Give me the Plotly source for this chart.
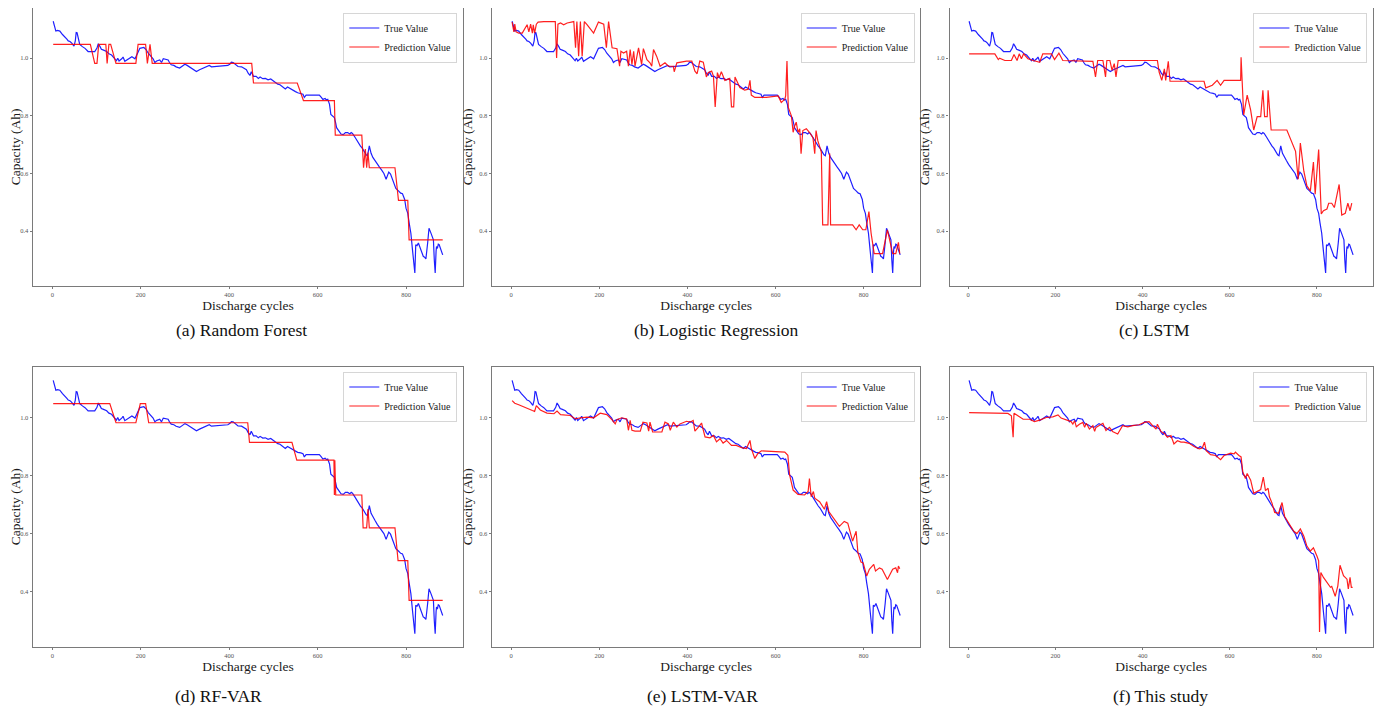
import plotly.graph_objects as go
from plotly.subplots import make_subplots

# ---------------- data ----------------
true_cycles = [2, 5, 8, 12, 17, 23, 29, 33, 36, 40, 44, 47, 49, 52, 54, 56, 58, 62, 68, 74, 81, 88, 96, 101, 104, 108, 111, 116, 123, 128, 134, 140, 145, 148, 151, 157, 160, 164, 170, 175, 180, 187, 192, 198, 207, 212, 217, 222, 228, 232, 236, 243, 247, 251, 262, 265, 269, 275, 280, 288, 294, 300, 305, 310, 315, 320, 326, 333, 340, 348, 355, 360, 371, 380, 390, 397, 402, 405, 409, 414, 420, 428, 435, 439, 443, 447, 450, 455, 461, 466, 470, 476, 482, 488, 494, 499, 505, 510, 515, 521, 527, 532, 537, 545, 550, 555, 562, 567, 570, 574, 585, 595, 604, 608, 612, 617, 620, 623, 627, 630, 634, 638, 641, 643, 648, 653, 658, 663, 668, 673, 676, 679, 685, 691, 697, 701, 706, 710, 713, 717, 721, 725, 730, 735, 740, 745, 750, 755, 758, 761, 765, 770, 774, 777, 783, 788, 792, 797, 800, 804, 807, 811, 815, 818, 820, 822, 825, 828, 831, 834, 837, 839, 842, 845, 849, 852, 856, 860, 862, 864, 866, 868, 869, 871, 873, 875, 878, 880, 883]
true_capacity = [1.128, 1.11, 1.094, 1.096, 1.094, 1.082, 1.074, 1.066, 1.06, 1.058, 1.052, 1.048, 1.042, 1.06, 1.089, 1.088, 1.075, 1.048, 1.04, 1.034, 1.023, 1.022, 1.023, 1.035, 1.05, 1.04, 1.031, 1.028, 1.023, 1.015, 1.011, 1.0, 0.991, 1.0, 0.99, 0.998, 1.004, 0.989, 0.995, 1.0, 1.005, 0.998, 1.012, 1.034, 1.037, 1.03, 1.017, 1.008, 0.998, 0.985, 0.99, 0.994, 0.985, 0.998, 0.994, 0.985, 0.977, 0.975, 0.97, 0.966, 0.972, 0.979, 0.975, 0.97, 0.966, 0.96, 0.954, 0.96, 0.965, 0.971, 0.975, 0.97, 0.971, 0.972, 0.973, 0.975, 0.98, 0.986, 0.985, 0.98, 0.971, 0.97, 0.965, 0.96, 0.948, 0.94, 0.953, 0.937, 0.937, 0.93, 0.935, 0.929, 0.93, 0.925, 0.928, 0.922, 0.918, 0.91, 0.908, 0.899, 0.893, 0.9, 0.895, 0.89, 0.884, 0.88, 0.878, 0.875, 0.864, 0.872, 0.872, 0.872, 0.872, 0.865, 0.857, 0.86, 0.855, 0.857, 0.84, 0.805, 0.8, 0.794, 0.775, 0.759, 0.748, 0.737, 0.735, 0.742, 0.742, 0.737, 0.742, 0.739, 0.725, 0.708, 0.695, 0.688, 0.674, 0.665, 0.662, 0.696, 0.67, 0.656, 0.645, 0.632, 0.622, 0.612, 0.6, 0.58, 0.59, 0.605, 0.598, 0.576, 0.56, 0.548, 0.54, 0.532, 0.53, 0.51, 0.48, 0.462, 0.43, 0.393, 0.33, 0.28, 0.255, 0.353, 0.35, 0.359, 0.345, 0.33, 0.318, 0.313, 0.31, 0.304, 0.36, 0.41, 0.395, 0.38, 0.37, 0.3, 0.255, 0.33, 0.347, 0.34, 0.355, 0.353, 0.34, 0.33, 0.318]

rf_cycles = [2, 86, 96, 101, 105, 121, 124, 128, 132, 144, 189, 194, 211, 215, 221, 226, 451, 455, 554, 568, 638, 640, 700, 704, 708, 711, 714, 717, 720, 775, 783, 804, 807, 883]
rf_capacity = [1.048, 1.048, 0.982, 0.982, 1.048, 1.048, 0.982, 1.048, 1.048, 0.982, 0.982, 1.048, 1.048, 0.982, 1.048, 0.982, 0.982, 0.914, 0.914, 0.853, 0.853, 0.733, 0.733, 0.62, 0.685, 0.62, 0.673, 0.62, 0.62, 0.62, 0.507, 0.507, 0.37, 0.37]

lr_cycles = [2, 6, 8, 11, 17, 25, 36, 40, 44, 48, 50, 53, 57, 61, 74, 100, 103, 106, 112, 119, 127, 142, 146, 149, 153, 157, 161, 166, 172, 187, 198, 210, 216, 221, 229, 240, 246, 249, 255, 262, 266, 270, 274, 278, 281, 289, 296, 300, 308, 315, 319, 323, 330, 338, 349, 357, 368, 370, 376, 387, 398, 410, 417, 422, 428, 436, 443, 447, 455, 459, 463, 468, 472, 477, 485, 496, 500, 505, 508, 519, 530, 538, 542, 545, 553, 579, 606, 613, 621, 623, 626, 629, 636, 640, 643, 647, 651, 655, 658, 662, 670, 677, 685, 689, 692, 696, 700, 704, 707, 719, 723, 725, 775, 783, 790, 798, 805, 812, 817, 824, 843, 854, 866, 873, 879, 882]
lr_capacity = [1.125, 1.091, 1.118, 1.091, 1.087, 1.087, 1.116, 1.091, 1.118, 1.087, 1.116, 1.087, 1.118, 1.125, 1.127, 1.127, 1.001, 1.118, 1.122, 1.116, 1.122, 1.127, 1.036, 1.127, 1.007, 1.127, 1.007, 1.127, 1.116, 1.087, 1.125, 1.118, 1.036, 1.127, 1.036, 1.033, 0.972, 1.024, 1.018, 1.024, 0.972, 1.03, 0.978, 1.024, 0.972, 1.036, 0.978, 1.033, 0.995, 0.984, 0.972, 1.03, 1.007, 0.972, 0.984, 0.972, 0.972, 0.953, 0.984, 0.987, 0.99, 0.99, 0.955, 0.946, 0.99, 0.986, 0.935, 0.95, 0.955, 0.938, 0.831, 0.95, 0.932, 0.953, 0.923, 0.93, 0.831, 0.831, 0.935, 0.898, 0.889, 0.892, 0.923, 0.872, 0.864, 0.864, 0.869, 0.846, 0.858, 0.869, 0.99, 0.829, 0.8, 0.743, 0.763, 0.778, 0.743, 0.755, 0.669, 0.749, 0.755, 0.743, 0.724, 0.669, 0.749, 0.714, 0.692, 0.674, 0.422, 0.422, 0.669, 0.422, 0.422, 0.405, 0.422, 0.405, 0.405, 0.468, 0.393, 0.322, 0.322, 0.405, 0.322, 0.322, 0.361, 0.322]

lstm_cycles = [2, 61, 69, 72, 84, 99, 105, 112, 117, 122, 127, 137, 149, 164, 171, 191, 198, 208, 217, 286, 292, 297, 309, 315, 318, 325, 330, 335, 339, 344, 434, 438, 444, 450, 453, 459, 463, 541, 545, 560, 571, 579, 587, 625, 626, 632, 640, 648, 655, 663, 671, 676, 680, 686, 688, 695, 731, 743, 751, 757, 762, 770, 777, 785, 792, 796, 804, 810, 815, 823, 827, 834, 840, 851, 857, 865, 871, 876, 880]
lstm_capacity = [1.015, 1.015, 0.995, 1.0, 0.992, 0.992, 1.013, 0.992, 1.015, 0.998, 1.015, 0.998, 0.992, 0.986, 1.015, 1.015, 0.995, 1.017, 0.992, 0.989, 0.935, 0.992, 0.992, 0.935, 0.992, 0.992, 0.958, 0.981, 0.935, 0.992, 0.992, 0.952, 0.923, 0.963, 0.923, 0.989, 0.92, 0.92, 0.897, 0.906, 0.923, 0.906, 0.923, 0.923, 1.003, 0.803, 0.872, 0.82, 0.751, 0.797, 0.797, 0.889, 0.797, 0.797, 0.889, 0.751, 0.751, 0.706, 0.677, 0.58, 0.706, 0.608, 0.557, 0.54, 0.64, 0.528, 0.683, 0.46, 0.471, 0.477, 0.497, 0.497, 0.482, 0.562, 0.456, 0.462, 0.497, 0.471, 0.497]

rfvar_cycles = [2, 130, 144, 189, 199, 211, 218, 442, 446, 542, 553, 637, 638, 639, 641, 700, 703, 711, 714, 717, 775, 782, 804, 807, 883]
rfvar_capacity = [1.048, 1.048, 0.982, 0.982, 1.048, 1.048, 0.982, 0.982, 0.914, 0.914, 0.853, 0.853, 0.733, 0.853, 0.733, 0.733, 0.62, 0.62, 0.685, 0.62, 0.62, 0.507, 0.507, 0.37, 0.37]

lstmvar_cycles = [2, 8, 17, 32, 48, 53, 57, 66, 81, 97, 104, 112, 134, 146, 157, 172, 187, 202, 217, 229, 236, 240, 251, 262, 266, 270, 274, 281, 293, 299, 308, 312, 315, 321, 342, 349, 357, 361, 368, 376, 383, 398, 406, 413, 417, 425, 432, 440, 451, 459, 466, 474, 481, 489, 500, 511, 523, 534, 542, 545, 553, 560, 568, 621, 628, 632, 640, 651, 666, 674, 677, 681, 686, 689, 700, 711, 716, 721, 734, 745, 756, 764, 775, 783, 787, 794, 799, 807, 813, 823, 827, 836, 842, 854, 866, 873, 877, 879, 882]
lstmvar_capacity = [1.058, 1.049, 1.044, 1.033, 1.024, 1.021, 1.041, 1.026, 1.015, 1.013, 1.022, 1.01, 1.007, 0.995, 0.999, 1.001, 0.999, 1.015, 1.01, 0.992, 0.978, 0.992, 0.999, 0.995, 0.956, 0.99, 0.956, 0.953, 0.953, 0.984, 0.981, 0.953, 0.984, 0.95, 0.95, 0.984, 0.978, 0.956, 0.984, 0.967, 0.978, 0.987, 0.984, 0.99, 0.953, 0.967, 0.981, 0.933, 0.93, 0.938, 0.916, 0.927, 0.912, 0.921, 0.904, 0.904, 0.896, 0.893, 0.921, 0.893, 0.859, 0.876, 0.885, 0.881, 0.87, 0.802, 0.75, 0.735, 0.733, 0.745, 0.79, 0.727, 0.745, 0.722, 0.71, 0.684, 0.71, 0.676, 0.648, 0.625, 0.642, 0.636, 0.574, 0.608, 0.534, 0.502, 0.499, 0.454, 0.477, 0.494, 0.471, 0.482, 0.477, 0.442, 0.477, 0.482, 0.465, 0.488, 0.479]

ours_cycles = [2, 42, 72, 91, 99, 103, 105, 111, 118, 126, 141, 152, 164, 179, 194, 206, 213, 225, 236, 240, 244, 248, 255, 263, 267, 271, 278, 286, 290, 293, 301, 309, 316, 324, 331, 343, 354, 366, 377, 392, 404, 415, 423, 431, 434, 442, 450, 457, 465, 472, 480, 488, 495, 507, 518, 530, 537, 542, 546, 556, 568, 579, 587, 602, 610, 613, 621, 626, 630, 636, 640, 648, 655, 667, 671, 677, 682, 688, 691, 697, 703, 712, 720, 726, 735, 747, 754, 762, 770, 777, 785, 792, 800, 804, 806, 809, 815, 823, 831, 834, 842, 848, 853, 861, 869, 872, 876, 879, 882]
ours_capacity = [1.017, 1.015, 1.014, 1.014, 1.006, 0.932, 1.015, 1.009, 1.002, 0.994, 0.994, 0.986, 0.991, 1.0, 1.002, 1.009, 0.998, 0.991, 0.986, 0.977, 0.989, 0.968, 0.977, 0.983, 0.966, 0.98, 0.96, 0.972, 0.952, 0.966, 0.972, 0.98, 0.955, 0.966, 0.952, 0.943, 0.972, 0.968, 0.972, 0.975, 0.983, 0.986, 0.972, 0.96, 0.977, 0.952, 0.945, 0.932, 0.938, 0.909, 0.92, 0.915, 0.915, 0.911, 0.9, 0.892, 0.895, 0.915, 0.886, 0.872, 0.869, 0.855, 0.869, 0.877, 0.875, 0.881, 0.869, 0.864, 0.812, 0.79, 0.807, 0.784, 0.739, 0.75, 0.752, 0.795, 0.748, 0.756, 0.727, 0.705, 0.673, 0.67, 0.707, 0.659, 0.636, 0.608, 0.6, 0.616, 0.591, 0.557, 0.54, 0.551, 0.523, 0.506, 0.261, 0.466, 0.449, 0.432, 0.415, 0.418, 0.384, 0.42, 0.491, 0.455, 0.443, 0.409, 0.449, 0.415, 0.415]

captions = ["(a) Random Forest", "(b) Logistic Regression", "(c) LSTM",
            "(d) RF-VAR", "(e) LSTM-VAR", "(f) This study"]
pred_cycles = [rf_cycles, lr_cycles, lstm_cycles, rfvar_cycles, lstmvar_cycles, ours_cycles]
pred_capacity = [rf_capacity, lr_capacity, lstm_capacity, rfvar_capacity, lstmvar_capacity, ours_capacity]
x_tick_values = [0, 200, 400, 600, 800]
x_tick_labels = ["0", "200", "400", "600", "800"]
y_tick_values = [0.4, 0.6, 0.8, 1.0]
y_tick_labels = ["0.4", "0.6", "0.8", "1.0"]
series_names = ["True Value", "Prediction Value"]

# ---------------- layout geometry (window pixels) ----------------
OFF = 8                      # default page margin around the plot div
W, H = 1391 - OFF, 708 - OFF
col_px = [(33.3, 462.6), (492.3, 920.0), (949.5, 1372.7)]
row_px = [(8.0, 285.7), (367.0, 646.5)]
caption_px = [(241.5, 330.5), (716.7, 330.5), (1154.0, 330.5),
              (218.0, 696.0), (702.0, 696.0), (1160.8, 696.0)]


def px_x(v):
    return min(1.0, max(0.0, (v - OFF) / W))


def px_y(v):
    return min(1.0, max(0.0, 1 - (v - OFF) / H))


FONT = "Liberation Serif, Times New Roman, serif"
BLUE = "rgba(0,0,255,0.88)"
RED = "rgba(255,0,0,0.88)"
AXC = "#7a7a7a"

fig = make_subplots(rows=2, cols=3)

for k in range(6):
    r, c = divmod(k, 3)
    leg = "legend" if k == 0 else f"legend{k + 1}"
    fig.add_trace(go.Scatter(x=true_cycles, y=true_capacity, mode="lines",
                             name=series_names[0], line=dict(color=BLUE, width=1.2),
                             legend=leg, hoverinfo="skip"), row=r + 1, col=c + 1)
    fig.add_trace(go.Scatter(x=pred_cycles[k], y=pred_capacity[k], mode="lines",
                             name=series_names[1], line=dict(color=RED, width=1.2),
                             legend=leg, hoverinfo="skip"), row=r + 1, col=c + 1)

    x0, x1 = col_px[c]
    y0, y1 = row_px[r]
    ax = "" if k == 0 else str(k + 1)
    fig.layout["xaxis" + ax].update(
        domain=[px_x(x0), px_x(x1)], range=[-43, 928], automargin=False,
        tickmode="array", tickvals=x_tick_values, ticktext=x_tick_labels,
        ticks="outside", ticklen=2.5, tickwidth=1, tickcolor=AXC,
        tickfont=dict(family=FONT, size=6.5, color="#555"),
        showline=True, linecolor=AXC, linewidth=1.3, mirror=True,
        showgrid=False, zeroline=False,
        title=dict(text="Discharge cycles", standoff=0,
                   font=dict(family=FONT, size=13.5, color="#1a1a1a")))
    fig.layout["yaxis" + ax].update(
        domain=[px_y(y1), px_y(y0)], range=[0.211, 1.174], automargin=False,
        tickmode="array", tickvals=y_tick_values, ticktext=y_tick_labels,
        ticks="outside", ticklen=2.5, tickwidth=1, tickcolor=AXC,
        tickfont=dict(family=FONT, size=6.5, color="#555"),
        showline=True, linecolor=AXC, linewidth=1.3, mirror=True,
        showgrid=False, zeroline=False,
        title=dict(text="Capacity (Ah)", standoff=2 if c == 0 else 3,
                   font=dict(family=FONT, size=13.5, color="#1a1a1a")))

    fig.layout[leg] = dict(
        x=px_x(x1 - 5.3), xanchor="right", y=px_y(y0 + 4.5), yanchor="top",
        bgcolor="rgba(255,255,255,0.85)", bordercolor="#d6d6d6", borderwidth=1,
        font=dict(family=FONT, size=10, color="#1a1a1a"),
        itemwidth=30, tracegroupgap=0)

    cx, cy = caption_px[k]
    fig.add_annotation(text=captions[k], xref="paper", yref="paper",
                       x=px_x(cx), y=px_y(cy), xanchor="center", yanchor="middle",
                       showarrow=False,
                       font=dict(family=FONT, size=17.5, color="#111"))

fig.update_layout(width=W, height=H, autosize=False,
                  margin=dict(l=0, r=0, t=0, b=0),
                  paper_bgcolor="white", plot_bgcolor="white",
                  showlegend=True, font=dict(family=FONT))

fig.write_html("out.html")
